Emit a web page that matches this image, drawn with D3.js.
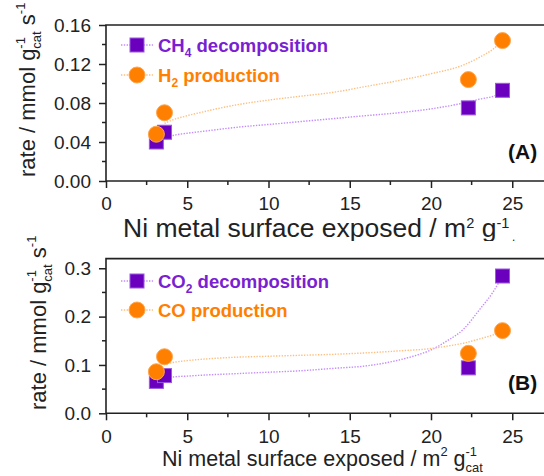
<!DOCTYPE html>
<html><head><meta charset="utf-8">
<script src="https://cdn.jsdelivr.net/npm/d3@7/dist/d3.min.js"></script>
<style>body{margin:0;background:#fff}svg{display:block}text{font-family:"Liberation Sans",Arial,sans-serif}</style>
</head><body>
<svg id="c" width="544" height="476"></svg>
<script>
// ---- data ----
const surfaceArea = [3.1, 3.6, 22.3, 24.4];
const ch4Rate = [0.040, 0.050, 0.075, 0.093];
const h2Rate  = [0.048, 0.070, 0.104, 0.144];
const co2Rate = [0.066, 0.078, 0.094, 0.284];
const coRate  = [0.086, 0.117, 0.124, 0.171];

const ch4FitX = [3.6, 4.2, 5, 6, 8, 10, 12, 14, 16, 18, 20, 22, 23, 24, 24.4];
const ch4FitY = [0.044, 0.047, 0.049, 0.051, 0.055, 0.058, 0.061, 0.064, 0.067, 0.070, 0.074, 0.080, 0.084, 0.088, 0.092];
const h2FitX = [3.6, 4, 5, 6, 8, 10, 12, 14, 16, 18, 20, 22, 23, 23.8, 24.4];
const h2FitY = [0.059, 0.062, 0.067, 0.071, 0.078, 0.083, 0.087, 0.091, 0.097, 0.103, 0.110, 0.119, 0.127, 0.135, 0.144];
const co2FitX = [3.6, 4.1, 5, 6, 8, 10, 12, 14, 16, 18, 19, 20, 21, 22, 23, 23.8, 24.4];
const co2FitY = [0.072, 0.075, 0.077, 0.079, 0.082, 0.085, 0.088, 0.093, 0.098, 0.110, 0.119, 0.131, 0.150, 0.174, 0.215, 0.250, 0.284];
const coFitX = [3.6, 4.1, 5, 6, 8, 10, 12, 14, 16, 18, 20, 21, 22, 23, 23.8, 24.4];
const coFitY = [0.101, 0.105, 0.109, 0.112, 0.116, 0.118, 0.120, 0.122, 0.125, 0.129, 0.134, 0.139, 0.145, 0.154, 0.162, 0.171];

const xTicks = [0, 5, 10, 15, 20, 25];
const yTicksA = [0, 0.04, 0.08, 0.12, 0.16];
const yTicksB = [0, 0.1, 0.2, 0.3];

const PURPLE = "#6a00bd", PURPLE_TXT = "#7a1fd2", PURPLE_LINE = "#c48cff";
const ORANGE = "#ff8000", ORANGE_LINE = "#ffbf80";

const svg = d3.select("#c");
svg.append("defs").append("clipPath").attr("id","clipA")
  .append("rect").attr("x",0).attr("y",0).attr("width",544).attr("height",241);

const x = d3.scaleLinear().domain([0, 30]).range([106, 593.5]);

function legendText(g, xx, yy, color, parts) {
  const t = g.append("text").attr("x", xx).attr("y", yy).attr("fill", color)
    .style("font-size", "18.5px").style("font-weight", "bold");
  t.append("tspan").text(parts[0]);
  if (parts[1]) {
    t.append("tspan").text(parts[1]).style("font-size", "12px").attr("dy", 5);
    t.append("tspan").text(parts[2]).attr("dy", -5);
  } else {
    t.append("tspan").text(parts[2]);
  }
}

function panel(g, cfg) {
  const y = cfg.y;
  const [y0, y1] = y.range();
  const xl = x.range()[0];
  // minor ticks
  const xMinor = d3.range(2.5, 30, 5);
  g.append("g").selectAll("line").data(xMinor).join("line")
    .attr("x1", d => x(d)).attr("x2", d => x(d)).attr("y1", y0).attr("y2", y0 + 4)
    .attr("stroke", "#222").attr("stroke-width", 1.5);
  g.append("g").selectAll("line").data(cfg.yMinor).join("line")
    .attr("x1", xl - 4).attr("x2", xl).attr("y1", d => y(d)).attr("y2", d => y(d))
    .attr("stroke", "#222").attr("stroke-width", 1.5);
  // axes
  const ax = d3.axisBottom(x).tickValues(xTicks).tickSize(7).tickPadding(8).tickFormat(d3.format("d"));
  const axG = g.append("g").attr("transform", `translate(0,${y0})`).call(ax);
  const ay = d3.axisLeft(y).tickValues(cfg.yTicks).tickSize(7).tickPadding(8).tickFormat(d3.format(cfg.fmt));
  const ayG = g.append("g").attr("transform", `translate(${xl},0)`).call(ay);
  [axG, ayG].forEach(a => {
    a.select(".domain").remove();
    a.selectAll("line").attr("stroke", "#222").attr("stroke-width", 1.5);
    a.selectAll("text").attr("fill", "#222").style("font-size", "19px").attr("font-family", null);
  });
  axG.selectAll("text").attr("dy", null).attr("y", cfg.xLabelBase - y0);
  // box
  g.append("path").attr("d", `M${xl},${y0}H600M${xl},${y0}V${y1}H600`)
    .attr("fill", "none").attr("stroke", "#222").attr("stroke-width", 1.6);
  // fit curves
  const line = d3.line().x(d => x(d[0])).y(d => y(d[1])).curve(d3.curveMonotoneX);
  cfg.fits.forEach(f => {
    g.append("path").datum(d3.zip(f.x, f.y)).attr("d", line)
      .attr("fill", "none").attr("stroke", f.color).attr("stroke-width", 1.4)
      .attr("stroke-dasharray", "1.4,1.4");
  });
  // markers
  g.append("g").selectAll("rect").data(d3.zip(surfaceArea, cfg.sq)).join("rect")
    .attr("x", d => x(d[0]) - 7).attr("y", d => y(d[1]) - 7).attr("width", 14).attr("height", 14)
    .attr("fill", PURPLE).attr("stroke", "#9a5ae0").attr("stroke-width", 1);
  g.append("g").selectAll("circle").data(d3.zip(surfaceArea, cfg.ci)).join("circle")
    .attr("cx", d => x(d[0])).attr("cy", d => y(d[1])).attr("r", 8)
    .attr("fill", ORANGE).attr("stroke", "#ffa64d").attr("stroke-width", 1);
  // legend
  const L = cfg.legend;
  [[L.y1, PURPLE_LINE], [L.y2, ORANGE_LINE]].forEach(([yy, c]) => {
    g.append("line").attr("x1", 121).attr("x2", 153).attr("y1", yy).attr("y2", yy)
      .attr("stroke", c).attr("stroke-width", 1.4).attr("stroke-dasharray", "1.4,1.4");
  });
  g.append("rect").attr("x", 137 - 7).attr("y", L.y1 - 7).attr("width", 14).attr("height", 14)
    .attr("fill", PURPLE).attr("stroke", "#9a5ae0").attr("stroke-width", 1);
  g.append("circle").attr("cx", 137).attr("cy", L.y2).attr("r", 8)
    .attr("fill", ORANGE).attr("stroke", "#ffa64d").attr("stroke-width", 1);
  legendText(g, 158, L.y1 + 7, PURPLE_TXT, L.t1);
  legendText(g, 158, L.y2 + 7, ORANGE, L.t2);
  // panel label
  g.append("text").attr("x", 508).attr("y", cfg.tag[1]).text(cfg.tag[0])
    .style("font-size", "21px").style("font-weight", "bold").attr("fill", "#111");
  // y title
  const yt = g.append("text").attr("transform", `translate(${cfg.yTitle[0]},${cfg.yTitle[1]}) rotate(-90)`)
    .style("font-size", "22px").attr("fill", "#222");
  yt.append("tspan").text("rate / mmol g");
  const sup = yt.append("tspan").text("-1").style("font-size", "13px").attr("dy", -10);
  const w = sup.node().getComputedTextLength();
  yt.append("tspan").text("cat").style("font-size", "13px").attr("dx", -w).attr("dy", 16);
  yt.append("tspan").text(" s").attr("dy", -6);
  yt.append("tspan").text("-1").style("font-size", "13px").attr("dy", -10);
  // x title
  const [tx, ty, fs, supK, supUp, subDown] = cfg.xTitle;
  const xt = g.append("text").attr("x", tx).attr("y", ty)
    .style("font-size", fs + "px").attr("fill", "#222");
  xt.append("tspan").text("Ni metal surface exposed / m");
  xt.append("tspan").text("2").style("font-size", (fs * supK) + "px").attr("dy", -fs * supUp);
  xt.append("tspan").text(" g").attr("dy", fs * supUp);
  const sx = xt.append("tspan").text("-1").style("font-size", (fs * supK) + "px").attr("dy", -fs * supUp);
  const w2 = sx.node().getComputedTextLength();
  xt.append("tspan").text("cat").style("font-size", (fs * supK) + "px").attr("dx", -w2).attr("dy", fs * subDown);
}

const yA = d3.scaleLinear().domain([0, 0.16]).range([181, 25]);
const yB = d3.scaleLinear().domain([0, 0.32]).range([413.3, 258.6]);

panel(svg.append("g").attr("clip-path", "url(#clipA)"), {
  y: yA, yTicks: yTicksA, yMinor: [0.02, 0.06, 0.10, 0.14], fmt: ".2f",
  xLabelBase: 210,
  sq: ch4Rate, ci: h2Rate,
  fits: [{x: ch4FitX, y: ch4FitY, color: PURPLE_LINE}, {x: h2FitX, y: h2FitY, color: ORANGE_LINE}],
  legend: {y1: 45, y2: 75, t1: ["CH", "4", " decomposition"], t2: ["H", "2", " production"]},
  tag: ["(A)", 159],
  yTitle: [35, 177],
  xTitle: [123, 237, 26.5, 0.55, 0.33, 0.8]
});
panel(svg.append("g"), {
  y: yB, yTicks: yTicksB, yMinor: [0.05, 0.15, 0.25], fmt: ".1f",
  xLabelBase: 443,
  sq: co2Rate, ci: coRate,
  fits: [{x: co2FitX, y: co2FitY, color: PURPLE_LINE}, {x: coFitX, y: coFitY, color: ORANGE_LINE}],
  legend: {y1: 281, y2: 310, t1: ["CO", "2", " decomposition"], t2: ["CO", "", " production"]},
  tag: ["(B)", 390],
  yTitle: [46, 410],
  xTitle: [162, 466, 21.5, 0.6, 0.45, 0.75]
});
</script>
</body></html>
